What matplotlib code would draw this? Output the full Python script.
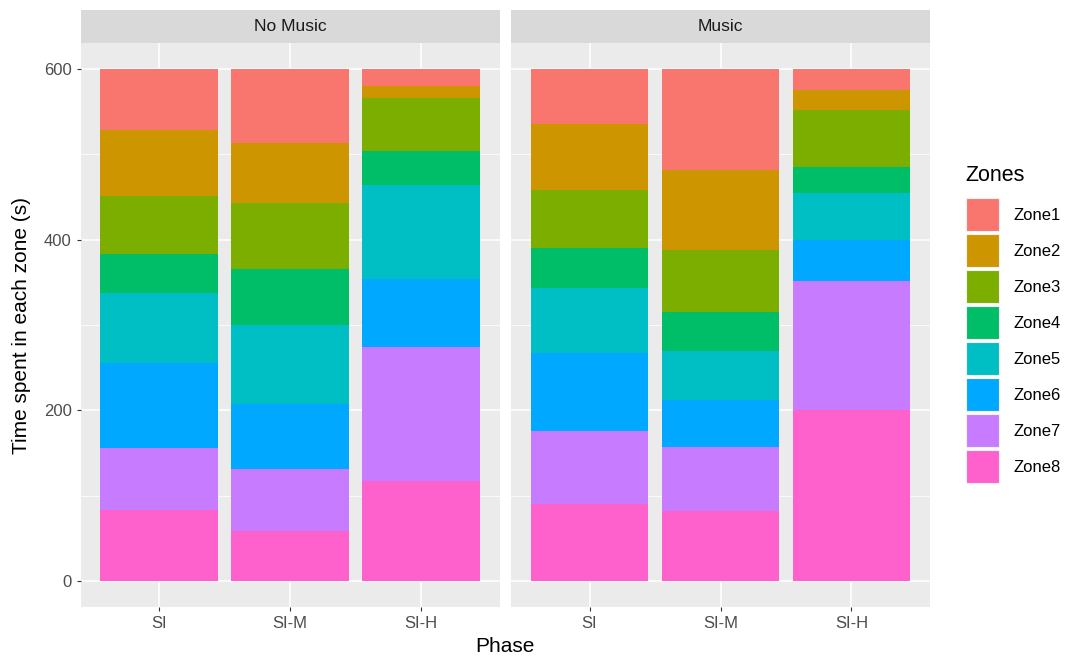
import matplotlib
matplotlib.use("Agg")
import matplotlib.pyplot as plt
from matplotlib.patches import Patch
import numpy as np

plt.rcParams["font.family"] = ["Liberation Sans", "DejaVu Sans"]

zones = ["Zone1", "Zone2", "Zone3", "Zone4", "Zone5", "Zone6", "Zone7", "Zone8"]
phases = ["SI", "SI-M", "SI-H"]
conditions = ["No Music", "Music"]

# seconds per zone, columns = SI, SI-M, SI-H
no_music = [
    [72, 87, 20],
    [77, 70, 14],
    [68, 77, 62],
    [46, 66, 40],
    [81, 92.5, 110],
    [100, 75.5, 80],
    [72, 73, 157],
    [84, 59, 117],
]
music = [
    [65, 118.5, 25],
    [77, 94, 23],
    [68, 72, 67],
    [46.5, 46, 30],
    [76, 57, 55],
    [91, 55, 48],
    [86.5, 75, 151],
    [90, 82.5, 201],
]
colors = ["#F8766D", "#CD9600", "#7CAE00", "#00BE67",
          "#00BFC4", "#00A9FF", "#C77CFF", "#FF61CC"]

W, H = 1066, 659
fig = plt.figure(figsize=(W / 100, H / 100), dpi=100)


def px_axes(x0, y0, x1, y1):
    return fig.add_axes([x0 / W, 1 - y1 / H, (x1 - x0) / W, (y1 - y0) / H])


panels = [(80.5, 499.5), (511, 930)]
for i, ((x0, x1), title, data) in enumerate(zip(panels, conditions, [no_music, music])):
    ax = px_axes(x0, 43, x1, 607)
    ax.set_facecolor("#EBEBEB")
    ax.set_axisbelow(True)
    x = np.arange(1, len(phases) + 1)
    bottom = np.zeros(len(phases))
    # Zone8 at the bottom, Zone1 on top
    for zone, col, vals in reversed(list(zip(zones, colors, data))):
        vals = np.array(vals, dtype=float)
        ax.bar(x, vals, 0.9, bottom=bottom, color=col, linewidth=0)
        bottom += vals
    ax.set_xlim(0.4, 3.6)
    ax.set_ylim(-30, 630)
    ax.set_yticks([0, 200, 400, 600])
    ax.set_yticks([100, 300, 500], minor=True)
    ax.set_xticks(x)
    ax.set_xticklabels(phases)
    ax.grid(which="major", color="white", lw=1.1)
    ax.grid(which="minor", axis="y", color="white", lw=0.55)
    for s in ax.spines.values():
        s.set_visible(False)
    ax.tick_params(length=2.9, width=0.8, color="#333333", labelcolor="#4D4D4D",
                   labelsize=12, pad=3.5)
    ax.tick_params(which="minor", length=0)
    if i == 1:
        ax.tick_params(axis="y", left=False, labelleft=False)

    strip = px_axes(x0, 10, x1, 43)
    strip.set_facecolor("#D9D9D9")
    strip.set_xticks([]); strip.set_yticks([])
    for s in strip.spines.values():
        s.set_visible(False)
    strip.text(0.5, 0.5, title, ha="center", va="center", fontsize=12.5,
               color="#1A1A1A", transform=strip.transAxes)

fig.text(505 / W, 1 - 647 / H, "Phase", ha="center", va="center", fontsize=15)
fig.text(22 / W, 1 - 325 / H, "Time spent in each zone (s)", ha="center",
         va="center", rotation=90, fontsize=15)

# legend title placed separately to get ggplot's title gap
fig.text(965 / W, 1 - 176 / H, "Zones", ha="left", va="center", fontsize=15.5)
handles = [Patch(facecolor=c, edgecolor="#F2F2F2", linewidth=0.8) for c in colors]
fig.legend(handles, zones, loc="upper left", bbox_to_anchor=(966 / W, 1 - 198 / H),
           frameon=False, fontsize=12,
           handlelength=1.98, handleheight=2.67, labelspacing=0.18,
           handletextpad=0.9, borderpad=0, borderaxespad=0)

fig.savefig("out.png", dpi=100)
